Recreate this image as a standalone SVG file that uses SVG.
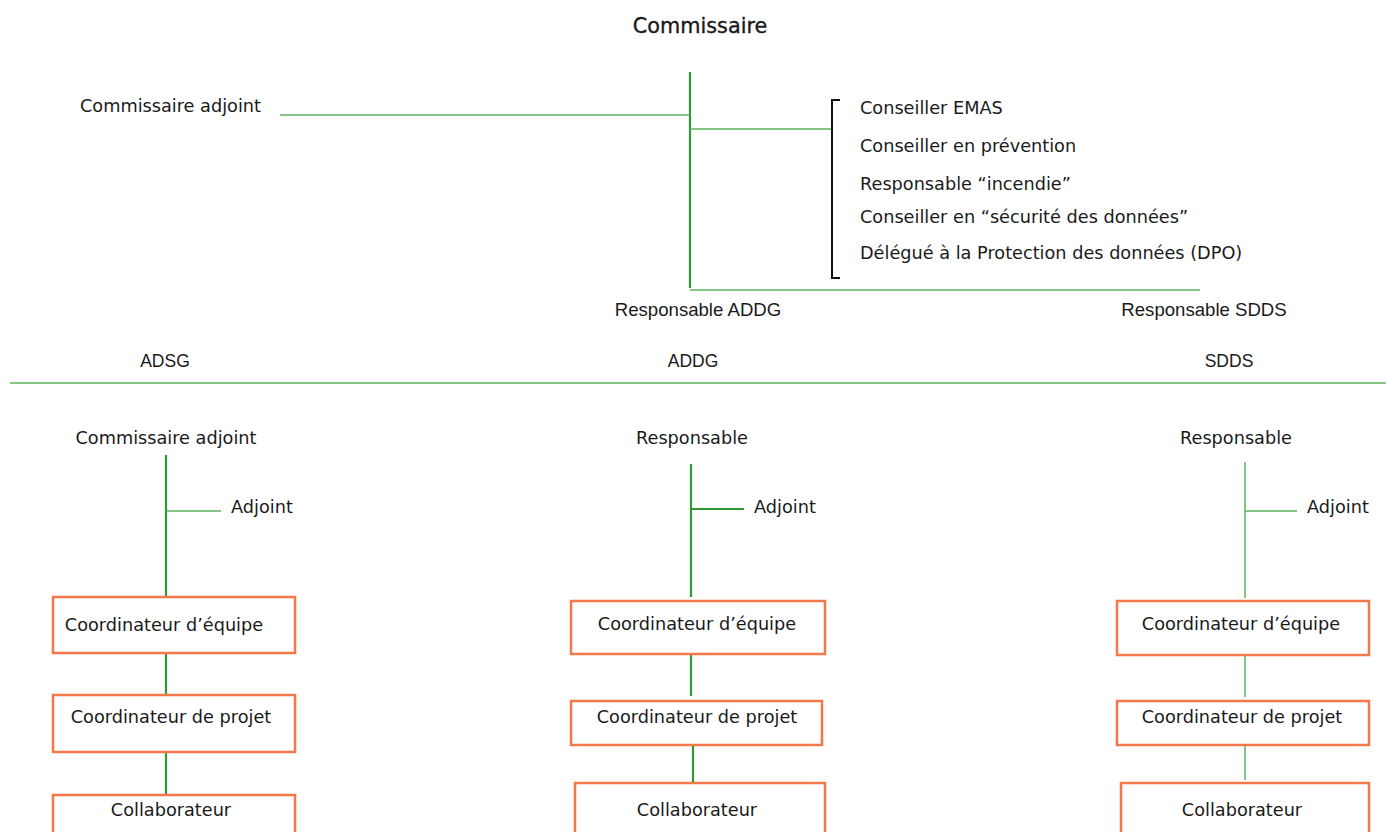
<svg xmlns="http://www.w3.org/2000/svg" width="1386" height="832" viewBox="0 0 1386 832">
<style>
.t{font-family:"DejaVu Sans","Liberation Sans",sans-serif;font-size:17.7px;fill:#1a1a1a}
.c{text-anchor:middle}
.n{font-family:"Liberation Sans",Arial,sans-serif;font-size:17.5px;fill:#1a1a1a}
.n2{font-size:18.6px}
.big{font-size:20.8px;stroke:#1a1a1a;stroke-width:0.35}
.dg{stroke:#2f9a35;stroke-width:2.2;fill:none}
.lg{stroke:#5cb35c;stroke-width:1.5;fill:none}
.box{fill:#fff;stroke:#f5784a;stroke-width:2.5}
</style>
<rect width="1386" height="832" fill="#fff"/>
<g id="connectors">
<line class="dg" x1="690" y1="72" x2="690" y2="288"/>
<line class="lg" x1="280" y1="115" x2="690" y2="115"/>
<line class="lg" x1="690" y1="129" x2="832" y2="129"/>
<line class="lg" x1="690" y1="290" x2="1200" y2="290"/>
<line class="lg" x1="10" y1="383" x2="1386" y2="383" stroke-width="2"/>
<line class="dg" x1="166" y1="455" x2="166" y2="597"/>
<line class="lg" x1="166" y1="511" x2="221" y2="511"/>
<line class="dg" x1="166" y1="653" x2="166" y2="695"/>
<line class="dg" x1="166" y1="752" x2="166" y2="795"/>
<line class="dg" x1="691" y1="464" x2="691" y2="597"/>
<line class="dg" x1="691" y1="509" x2="744" y2="509"/>
<line class="dg" x1="691" y1="654" x2="691" y2="696"/>
<line class="dg" x1="693" y1="745" x2="693" y2="783"/>
<line class="lg" x1="1245" y1="462" x2="1245" y2="598"/>
<line class="lg" x1="1245" y1="511" x2="1297" y2="511"/>
<line class="lg" x1="1245" y1="655" x2="1245" y2="697"/>
<line class="lg" x1="1245" y1="745" x2="1245" y2="780"/>
</g>
<g id="commissaire"><text class="t c big" x="700" y="33">Commissaire</text></g>
<g id="commissaire-adjoint"><text class="t" x="80" y="112">Commissaire adjoint</text></g>
<g id="conseillers">
<path d="M840 100 H832 V278 H840" fill="none" stroke="#111" stroke-width="2"/>
<text class="t" x="860" y="114">Conseiller EMAS</text>
<text class="t" x="860" y="152">Conseiller en prévention</text>
<text class="t" x="860" y="190">Responsable “incendie”</text>
<text class="t" x="860" y="223">Conseiller en “sécurité des données”</text>
<text class="t" x="860" y="259">Délégué à la Protection des données (DPO)</text>
</g>
<g id="responsable-addg"><text class="n n2 c" x="698" y="316">Responsable ADDG</text></g>
<g id="responsable-sdds"><text class="n n2 c" x="1204" y="316">Responsable SDDS</text></g>
<g id="adsg"><text class="n c" x="165" y="367">ADSG</text></g>
<g id="addg"><text class="n c" x="693" y="367">ADDG</text></g>
<g id="sdds"><text class="n c" x="1229" y="367">SDDS</text></g>
<g id="adsg-head"><text class="t c" x="166" y="444">Commissaire adjoint</text></g>
<g id="adsg-adjoint"><text class="t" x="231" y="513">Adjoint</text></g>
<g id="adsg-coord-equipe"><rect class="box" x="53" y="597" width="242" height="56"/><text class="t c" x="164" y="631">Coordinateur d’équipe</text></g>
<g id="adsg-coord-projet"><rect class="box" x="53" y="695" width="242" height="57"/><text class="t c" x="171" y="723">Coordinateur de projet</text></g>
<g id="adsg-collab"><rect class="box" x="53" y="795" width="242" height="50"/><text class="t c" x="171" y="816">Collaborateur</text></g>
<g id="addg-head"><text class="t c" x="692" y="444">Responsable</text></g>
<g id="addg-adjoint"><text class="t" x="754" y="513">Adjoint</text></g>
<g id="addg-coord-equipe"><rect class="box" x="571" y="601" width="254" height="53"/><text class="t c" x="697" y="630">Coordinateur d’équipe</text></g>
<g id="addg-coord-projet"><rect class="box" x="571" y="701" width="251" height="44"/><text class="t c" x="697" y="723">Coordinateur de projet</text></g>
<g id="addg-collab"><rect class="box" x="575" y="783" width="250" height="62"/><text class="t c" x="697" y="816">Collaborateur</text></g>
<g id="sdds-head"><text class="t c" x="1236" y="444">Responsable</text></g>
<g id="sdds-adjoint"><text class="t" x="1307" y="513">Adjoint</text></g>
<g id="sdds-coord-equipe"><rect class="box" x="1117" y="601" width="252" height="54"/><text class="t c" x="1241" y="630">Coordinateur d’équipe</text></g>
<g id="sdds-coord-projet"><rect class="box" x="1117" y="701" width="252" height="44"/><text class="t c" x="1242" y="723">Coordinateur de projet</text></g>
<g id="sdds-collab"><rect class="box" x="1121" y="783" width="248" height="62"/><text class="t c" x="1242" y="816">Collaborateur</text></g>
</svg>
